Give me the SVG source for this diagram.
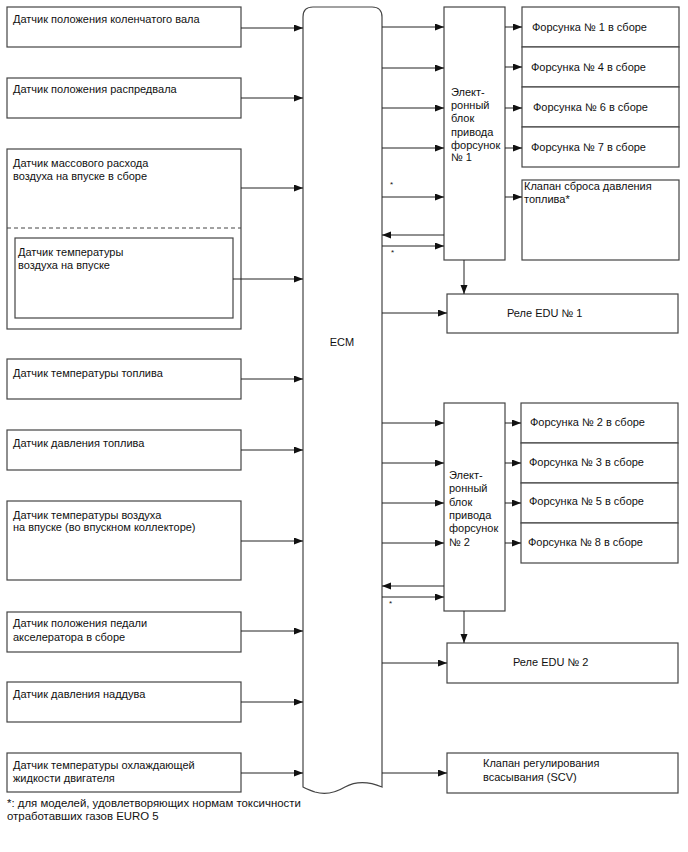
<svg xmlns="http://www.w3.org/2000/svg" width="688" height="852" viewBox="0 0 688 852">
<style>
.b{fill:#fff;stroke:#444;stroke-width:1.2}
.t{font-family:"Liberation Sans",Arial,sans-serif;font-size:11px;fill:#111}
.f{font-family:"Liberation Sans",Arial,sans-serif;font-size:11.4px;fill:#111}
.s{font-family:"Liberation Sans",Arial,sans-serif;font-size:8px;fill:#111}
.c{stroke:#222;stroke-width:1;fill:none;marker-end:url(#a)}
</style>
<defs>
<marker id="a" markerUnits="userSpaceOnUse" markerWidth="10" markerHeight="8" refX="9" refY="3.5" orient="auto"><path d="M0,0 L9,3.5 L0,7 z" fill="#111"/></marker>
</defs>
<rect width="688" height="852" fill="#fff"/>

<g id="n-ckp"><rect class="b" x="7" y="7" width="234" height="40"/><text class="t" x="13" y="23">Датчик положения коленчатого вала</text></g>
<g id="n-cmp"><rect class="b" x="7" y="78" width="234" height="40"/><text class="t" x="13" y="93">Датчик положения распредвала</text></g>
<g id="n-maf"><rect class="b" x="7" y="149" width="234" height="180"/><text class="t" x="13" y="167">Датчик массового расхода</text><text class="t" x="13" y="180">воздуха на впуске в сборе</text>
<line x1="7" y1="228" x2="241" y2="228" stroke="#444" stroke-width="1" stroke-dasharray="4,3"/></g>
<g id="n-iat"><rect class="b" x="15" y="238" width="218" height="80"/><text class="t" x="18" y="256">Датчик температуры</text><text class="t" x="18" y="269">воздуха на впуске</text></g>
<g id="n-fts"><rect class="b" x="7" y="359" width="234" height="40"/><text class="t" x="13" y="377">Датчик температуры топлива</text></g>
<g id="n-fps"><rect class="b" x="7" y="430" width="234" height="40"/><text class="t" x="13" y="447">Датчик давления топлива</text></g>
<g id="n-iatm"><rect class="b" x="7" y="501" width="234" height="79"/><text class="t" x="13" y="519">Датчик температуры воздуха</text><text class="t" x="13" y="531">на впуске (во впускном коллекторе)</text></g>
<g id="n-app"><rect class="b" x="7" y="612" width="234" height="40"/><text class="t" x="13" y="627">Датчик положения педали</text><text class="t" x="13" y="641">акселератора в сборе</text></g>
<g id="n-boost"><rect class="b" x="7" y="682" width="234" height="40"/><text class="t" x="13" y="698">Датчик давления наддува</text></g>
<g id="n-ect"><rect class="b" x="7" y="753" width="234" height="39"/><text class="t" x="13" y="769">Датчик температуры охлаждающей</text><text class="t" x="13" y="782">жидкости двигателя</text></g>

<g id="n-ecm"><path class="b" d="M303,787 L303,17 Q303,7 313,7 L372,7 Q382,7 382,17 L382,787 C370,782 358,780 345,787 C335,793 325,795 315,792 C310,790 306,789 303,787 z"/><text class="t" x="342" y="346" text-anchor="middle">ECM</text></g>

<g id="n-edu1"><rect class="b" x="444" y="7" width="61" height="253"/>
<text class="t" x="451" y="96">Элект-</text><text class="t" x="451" y="109">ронный</text><text class="t" x="451" y="122">блок</text><text class="t" x="451" y="136">привода</text><text class="t" x="451" y="149">форсунок</text><text class="t" x="451" y="161">№ 1</text></g>
<g id="n-inj1"><rect class="b" x="522" y="7" width="157" height="40"/><text class="t" x="532" y="31">Форсунка № 1 в сборе</text></g>
<g id="n-inj4"><rect class="b" x="522" y="47" width="157" height="40"/><text class="t" x="531" y="71">Форсунка № 4 в сборе</text></g>
<g id="n-inj6"><rect class="b" x="522" y="87" width="157" height="40"/><text class="t" x="533" y="111">Форсунка № 6 в сборе</text></g>
<g id="n-inj7"><rect class="b" x="522" y="127" width="157" height="40"/><text class="t" x="531" y="151">Форсунка № 7 в сборе</text></g>
<g id="n-prv"><rect class="b" x="522" y="180" width="157" height="80"/><text class="t" x="524" y="190">Клапан сброса давления</text><text class="t" x="524" y="203">топлива*</text></g>
<g id="n-relay1"><rect class="b" x="447" y="294" width="231" height="39"/><text class="t" x="507" y="317">Реле EDU № 1</text></g>

<g id="n-edu2"><rect class="b" x="444" y="403" width="61" height="208"/>
<text class="t" x="449" y="479">Элект-</text><text class="t" x="449" y="492">ронный</text><text class="t" x="449" y="506">блок</text><text class="t" x="449" y="519">привода</text><text class="t" x="449" y="532">форсунок</text><text class="t" x="449" y="546">№ 2</text></g>
<g id="n-inj2"><rect class="b" x="521" y="403" width="157" height="40"/><text class="t" x="530" y="426">Форсунка № 2 в сборе</text></g>
<g id="n-inj3"><rect class="b" x="521" y="443" width="157" height="40"/><text class="t" x="529" y="466">Форсунка № 3 в сборе</text></g>
<g id="n-inj5"><rect class="b" x="521" y="483" width="157" height="40"/><text class="t" x="529" y="505">Форсунка № 5 в сборе</text></g>
<g id="n-inj8"><rect class="b" x="521" y="523" width="157" height="40"/><text class="t" x="528" y="546">Форсунка № 8 в сборе</text></g>
<g id="n-relay2"><rect class="b" x="447" y="643" width="231" height="40"/><text class="t" x="513" y="666">Реле EDU № 2</text></g>
<g id="n-scv"><rect class="b" x="447" y="753" width="231" height="40"/><text class="t" x="483" y="767">Клапан регулирования</text><text class="t" x="483" y="781">всасывания (SCV)</text></g>

<g id="connectors">
<line class="c" x1="241" y1="28" x2="303" y2="28"/>
<line class="c" x1="241" y1="98" x2="303" y2="98"/>
<line class="c" x1="241" y1="188" x2="303" y2="188"/>
<line class="c" x1="233" y1="279" x2="303" y2="279"/>
<line class="c" x1="241" y1="379" x2="303" y2="379"/>
<line class="c" x1="241" y1="450" x2="303" y2="450"/>
<line class="c" x1="241" y1="541" x2="303" y2="541"/>
<line class="c" x1="241" y1="631" x2="303" y2="631"/>
<line class="c" x1="241" y1="702" x2="303" y2="702"/>
<line class="c" x1="241" y1="773" x2="303" y2="773"/>

<line class="c" x1="382" y1="27" x2="444" y2="27"/>
<line class="c" x1="382" y1="68" x2="444" y2="68"/>
<line class="c" x1="382" y1="108" x2="444" y2="108"/>
<line class="c" x1="382" y1="148" x2="444" y2="148"/>
<line class="c" x1="382" y1="197" x2="444" y2="197"/>
<line class="c" x1="444" y1="235" x2="382" y2="235"/>
<line class="c" x1="382" y1="246" x2="444" y2="246"/>
<line class="c" x1="382" y1="313" x2="447" y2="313"/>
<line class="c" x1="464" y1="260" x2="464" y2="294"/>
<line class="c" x1="505" y1="27" x2="522" y2="27"/>
<line class="c" x1="505" y1="67" x2="522" y2="67"/>
<line class="c" x1="505" y1="108" x2="522" y2="108"/>
<line class="c" x1="505" y1="148" x2="522" y2="148"/>
<line class="c" x1="505" y1="197" x2="522" y2="197"/>

<line class="c" x1="382" y1="423" x2="444" y2="423"/>
<line class="c" x1="382" y1="463" x2="444" y2="463"/>
<line class="c" x1="382" y1="503" x2="444" y2="503"/>
<line class="c" x1="382" y1="543" x2="444" y2="543"/>
<line class="c" x1="444" y1="586" x2="382" y2="586"/>
<line class="c" x1="382" y1="597" x2="444" y2="597"/>
<line class="c" x1="505" y1="423" x2="521" y2="423"/>
<line class="c" x1="505" y1="463" x2="521" y2="463"/>
<line class="c" x1="505" y1="503" x2="521" y2="503"/>
<line class="c" x1="505" y1="543" x2="521" y2="543"/>
<line class="c" x1="464" y1="611" x2="464" y2="643"/>
<line class="c" x1="382" y1="663" x2="447" y2="663"/>
<line class="c" x1="382" y1="773" x2="447" y2="773"/>
</g>

<text class="s" x="390" y="187">*</text>
<text class="s" x="391" y="255">*</text>
<text class="s" x="389" y="606">*</text>

<text class="f" x="7" y="807">*: для моделей, удовлетворяющих нормам токсичности</text>
<text class="f" x="7" y="820">отработавших газов EURO 5</text>
</svg>
